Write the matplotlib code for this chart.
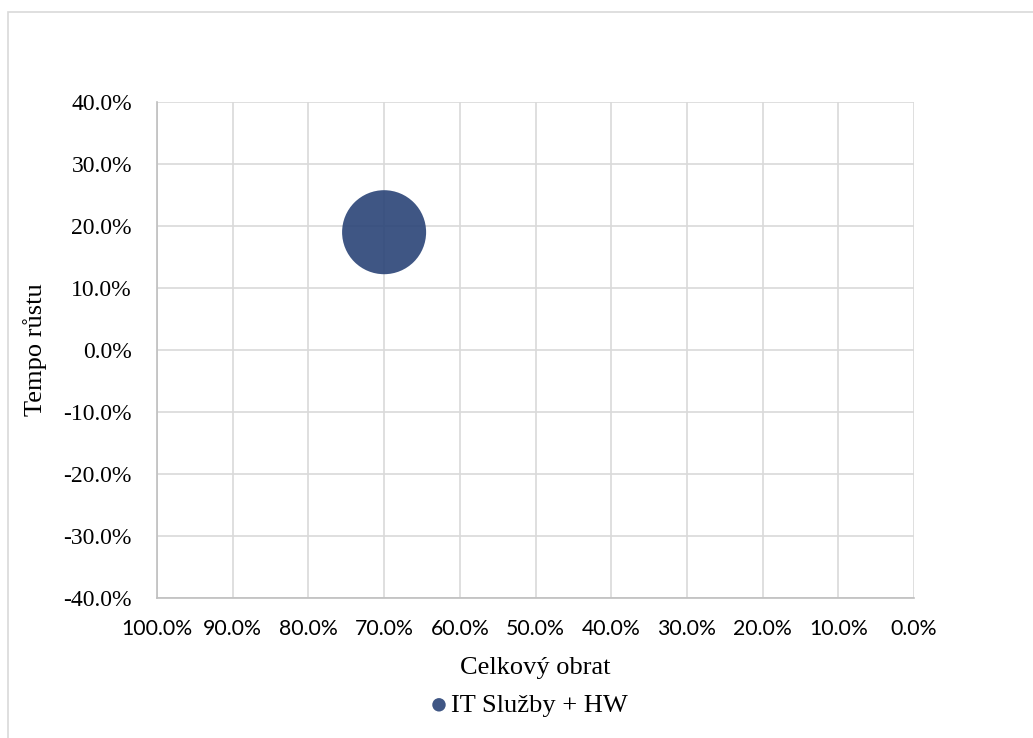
import matplotlib
matplotlib.use("Agg")
import matplotlib.pyplot as plt
from matplotlib.patches import Rectangle
from matplotlib.ticker import PercentFormatter

# data
series_names = ["IT Služby + HW"]
turnover_share = [0.70]   # Celkový obrat
growth_rate = [0.19]      # Tempo růstu
bubble_size = [1.0]       # relative bubble size

x_ticks = [1.0, 0.9, 0.8, 0.7, 0.6, 0.5, 0.4, 0.3, 0.2, 0.1, 0.0]
y_ticks = [-0.4, -0.3, -0.2, -0.1, 0.0, 0.1, 0.2, 0.3, 0.4]

plt.rcParams["axes.unicode_minus"] = False

SERIF = ["Liberation Serif", "DejaVu Serif"]
SANS = ["Lato", "DejaVu Sans"]
GRID = "#d9d9d9"
AXIS = "#bfbfbf"
BUBBLE = "#2a4477"

fig = plt.figure(figsize=(10.33, 7.38), dpi=100)
W, H = 1033, 738

# outer chart border (cut off on the right/bottom in the reference)
fig.patches.append(Rectangle((8 / W, -0.05), 1.1, (H - 12) / H + 0.05,
                             transform=fig.transFigure, fill=False,
                             edgecolor=GRID, linewidth=1.2))

ax = fig.add_axes([157 / W, 1 - 598 / H, (914 - 157) / W, (598 - 102) / H])

sizes = [s * 3660 for s in bubble_size]
ax.scatter(turnover_share, growth_rate, s=sizes, color=BUBBLE, alpha=0.9,
           edgecolors="none", zorder=3, label=series_names[0])

ax.set_xlim(1.0, 0.0)
ax.set_ylim(-0.4, 0.4)
ax.set_xticks(x_ticks)
ax.set_yticks(y_ticks)
ax.xaxis.set_major_formatter(PercentFormatter(1.0, decimals=1))
ax.yaxis.set_major_formatter(PercentFormatter(1.0, decimals=1))
ax.grid(True, color=GRID, linewidth=1.2, zorder=0)
ax.set_axisbelow(True)
ax.tick_params(length=0)
ax.tick_params(axis="x", pad=15)
ax.tick_params(axis="y", pad=18)
for lab in ax.get_xticklabels():
    lab.set_family(SANS)
    lab.set_fontsize(15.3)
for lab in ax.get_yticklabels():
    lab.set_family(SERIF)
    lab.set_fontsize(17)

for side in ["top", "right"]:
    ax.spines[side].set_visible(False)
for side in ["left", "bottom"]:
    ax.spines[side].set_color(AXIS)
    ax.spines[side].set_linewidth(1.2)

ax.set_xlabel("Celkový obrat", family=SERIF, fontsize=19, va="center")
ax.xaxis.set_label_coords(0.5, (598 - 668) / 496)
ax.set_ylabel("Tempo růstu", family=SERIF, fontsize=19, va="center")
ax.yaxis.set_label_coords((35 - 157) / 757, 0.5)

fig.legend(loc="center", bbox_to_anchor=(530 / W, 1 - 705 / H), frameon=False,
           prop={"family": SERIF, "size": 19}, handlelength=0.5,
           handletextpad=0.2, markerscale=0.16, borderaxespad=0, borderpad=0)

fig.savefig("out.png", dpi=100, facecolor="white")
